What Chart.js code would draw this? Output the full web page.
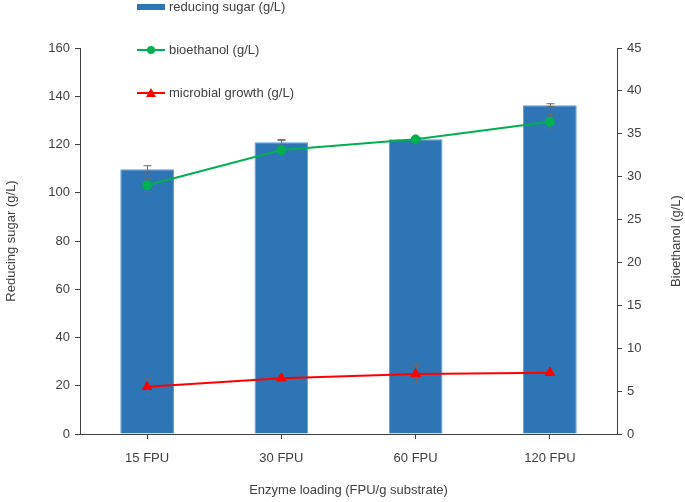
<!DOCTYPE html>
<html>
<head>
<meta charset="utf-8">
<script src="https://cdn.jsdelivr.net/npm/chart.js@4"></script>
<style>
  html, body { margin: 0; padding: 0; background: #fff; }
  #wrap { width: 685px; height: 502px; }
</style>
</head>
<body>
<div id="wrap"><canvas id="chart"></canvas></div>
<script>
const categories = ['15 FPU', '30 FPU', '60 FPU', '120 FPU'];
const reducingSugar = [109.7, 120.9, 122.2, 136.3];
const reducingSugarErr = [1.5, 1.2, 0.4, 0.6];
const bioethanol = [29.0, 33.1, 34.35, 36.4];
const bioethanolErr = [0.75, 1.1, 0.2, 0.9];
const microbial = [5.5, 6.5, 7.0, 7.15];
const microbialErr = [1.0, 0.2, 1.1, 0.2];
const leftTicks = [0, 20, 40, 60, 80, 100, 120, 140, 160];
const rightTicks = [0, 5, 10, 15, 20, 25, 30, 35, 40, 45];

const FONT = 'Liberation Sans, Arial, sans-serif';
const TEXT = '#404040';
const AXIS = '#404040';

function drawErrors(chart, i) {
    const ds = chart.data.datasets[i];
    if (!ds.errors) return;
    const ctx = chart.ctx;
    const meta = chart.getDatasetMeta(i);
    const scale = chart.scales[ds.yAxisID];
    ctx.save();
    ctx.strokeStyle = '#6b6b6b';
    ctx.lineWidth = 1;
    meta.data.forEach((el, j) => {
        const x = Math.round(el.x) + 0.5;
        const top = scale.getPixelForValue(ds.data[j] + ds.errors[j]);
        const bot = scale.getPixelForValue(ds.data[j] - ds.errors[j]);
        ctx.beginPath();
        ctx.moveTo(x, top); ctx.lineTo(x, bot);
        ctx.moveTo(x - 4, top); ctx.lineTo(x + 4, top);
        ctx.moveTo(x - 4, bot); ctx.lineTo(x + 4, bot);
        ctx.stroke();
    });
    ctx.restore();
}

// error bars: on top of bars, underneath line markers
const errorBars = {
    id: 'errorBars',
    beforeDatasetDraw(chart, args) {
        if (chart.data.datasets[args.index].type === 'line') drawErrors(chart, args.index);
    },
    afterDatasetDraw(chart, args) {
        if (chart.data.datasets[args.index].type === 'bar') drawErrors(chart, args.index);
    }
};

// legend and right axis title
const extras = {
    id: 'extras',
    afterDraw(chart) {
        const ctx = chart.ctx;
        ctx.save();
        ctx.font = '13px ' + FONT;
        ctx.fillStyle = TEXT;
        ctx.textBaseline = 'middle';
        ctx.textAlign = 'left';

        // reducing sugar
        ctx.fillStyle = '#2E75B6';
        ctx.fillRect(137, 4, 28, 6);
        ctx.fillStyle = TEXT;
        ctx.fillText('reducing sugar (g/L)', 169, 7);

        // bioethanol
        ctx.strokeStyle = '#00B050';
        ctx.lineWidth = 2;
        ctx.beginPath(); ctx.moveTo(137, 50); ctx.lineTo(165, 50); ctx.stroke();
        ctx.fillStyle = '#00B050';
        ctx.beginPath(); ctx.arc(151, 50, 4, 0, Math.PI * 2); ctx.fill();
        ctx.fillStyle = TEXT;
        ctx.fillText('bioethanol (g/L)', 169, 50);

        // microbial growth
        ctx.strokeStyle = '#FF0000';
        ctx.beginPath(); ctx.moveTo(137, 93); ctx.lineTo(165, 93); ctx.stroke();
        ctx.fillStyle = '#FF0000';
        ctx.beginPath(); ctx.moveTo(151, 88); ctx.lineTo(156, 97); ctx.lineTo(146, 97); ctx.closePath(); ctx.fill();
        ctx.fillStyle = TEXT;
        ctx.fillText('microbial growth (g/L)', 169, 93);

        // right axis title, reading bottom to top
        ctx.translate(676, 241);
        ctx.rotate(-Math.PI / 2);
        ctx.textAlign = 'center';
        ctx.fillText('Bioethanol (g/L)', 0, 0);
        ctx.restore();
    }
};

Chart.defaults.font.family = FONT;
Chart.defaults.font.size = 13;
Chart.defaults.color = TEXT;

new Chart(document.getElementById('chart'), {
    data: {
        labels: categories,
        datasets: [
            {
                type: 'line', label: 'microbial growth (g/L)', data: microbial, errors: microbialErr,
                yAxisID: 'y1', borderColor: '#FF0000', backgroundColor: '#FF0000', borderWidth: 2,
                pointStyle: 'triangle', pointRadius: 5.5, pointHoverRadius: 5.5, pointBorderWidth: 1, order: 1
            },
            {
                type: 'line', label: 'bioethanol (g/L)', data: bioethanol, errors: bioethanolErr,
                yAxisID: 'y1', borderColor: '#00B050', backgroundColor: '#00B050', borderWidth: 2,
                pointStyle: 'circle', pointRadius: 4.5, pointHoverRadius: 4.5, pointBorderWidth: 1, order: 2
            },
            {
                type: 'bar', label: 'reducing sugar (g/L)', data: reducingSugar, errors: reducingSugarErr,
                yAxisID: 'y', backgroundColor: '#2E75B6', borderColor: '#5B9BD5', borderWidth: 1,
                barPercentage: 0.4, categoryPercentage: 1, order: 3
            }
        ]
    },
    options: {
        responsive: true,
        maintainAspectRatio: false,
        animation: false,
        layout: { padding: { top: 48, left: 0, right: 0, bottom: 0 } },
        plugins: { legend: { display: false }, tooltip: { enabled: false } },
        scales: {
            x: {
                offset: true,
                grid: { display: true, drawOnChartArea: false, offset: false, tickLength: 5, color: AXIS },
                border: { color: AXIS, width: 1 },
                ticks: { padding: 12, color: TEXT },
                title: { display: true, text: 'Enzyme loading (FPU/g substrate)', color: TEXT, padding: { top: 12 } },
                afterFit: s => { s.height = 68; }
            },
            y: {
                position: 'left', min: 0, max: 160,
                afterBuildTicks: s => { s.ticks = leftTicks.map(v => ({ value: v })); },
                grid: { drawOnChartArea: false, tickLength: 5, color: AXIS },
                border: { color: AXIS, width: 1 },
                ticks: { padding: 5, color: TEXT },
                title: { display: true, text: 'Reducing sugar (g/L)', color: TEXT, padding: { bottom: 0 } },
                afterFit: s => { s.width = 80; }
            },
            y1: {
                position: 'right', min: 0, max: 45,
                afterBuildTicks: s => { s.ticks = rightTicks.map(v => ({ value: v })); },
                grid: { drawOnChartArea: false, tickLength: 5, color: AXIS },
                border: { color: AXIS, width: 1 },
                ticks: { padding: 5, color: TEXT },
                afterFit: s => { s.width = 68; }
            }
        }
    },
    plugins: [errorBars, extras]
});
</script>
</body>
</html>
